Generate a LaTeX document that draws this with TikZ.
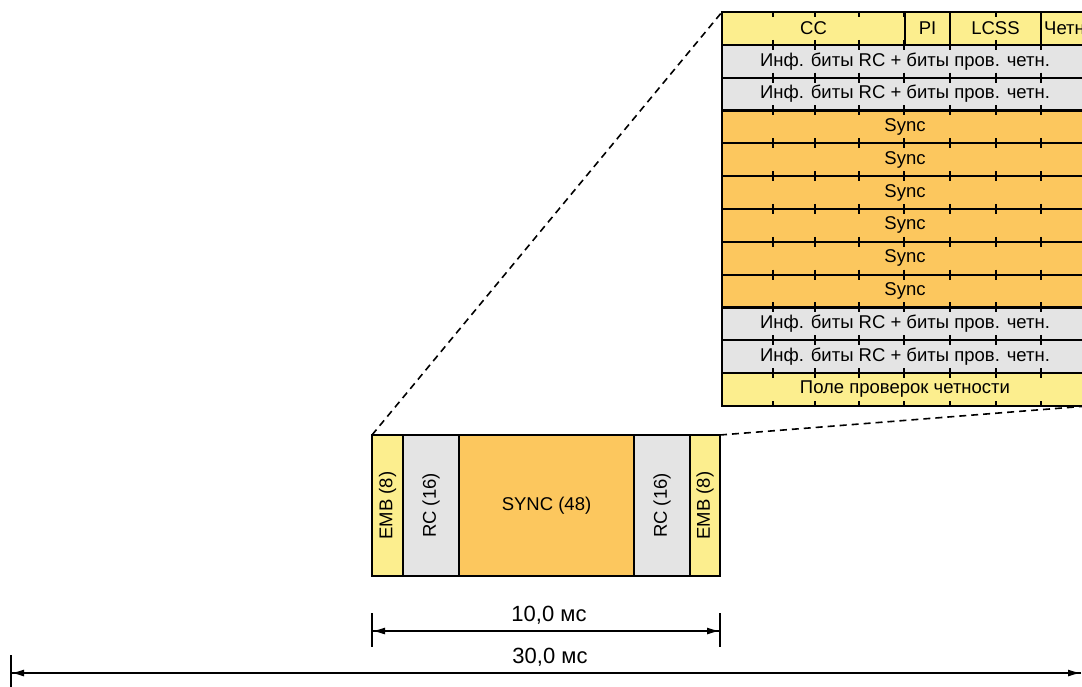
\documentclass[tikz,border=0pt]{standalone}
\usepackage{fontspec}
\setmainfont{Liberation Sans}
\usetikzlibrary{arrows.meta}
\definecolor{yel}{RGB}{252,238,142}
\definecolor{gry}{RGB}{228,228,228}
\definecolor{org}{RGB}{252,199,94}
\tikzset{
  cell/.style={draw=black, line width=2.2pt, inner sep=0pt, outer sep=0pt, anchor=north west,
    font=\fontsize{18.5}{20}\selectfont},
  rowcell/.style={cell, minimum width=366pt, minimum height=32.83pt},
  vcell/.style={cell, anchor=north west, minimum height=141pt},
  vlabel/.style={rotate=90, font=\fontsize{18.5}{20}\selectfont, inner sep=0pt},
  dimline/.style={line width=1.5pt, -{Latex[length=13pt,width=7pt]}},
  dimtick/.style={line width=2pt},
  dimlabel/.style={font=\fontsize{22}{24}\selectfont, inner sep=0pt},
  zoomline/.style={line width=1.6pt, dash pattern=on 7pt off 5pt},
  tick/.style={line width=1.5pt}
}
\begin{document}
\begin{tikzpicture}[x=1pt,y=-1pt]
\useasboundingbox (0,0) rectangle (1082,687);
\clip (0,0) rectangle (1082,687);
% --- expanded table ---
\node[cell, fill=yel, minimum width=183pt, minimum height=32.83pt] (cc) at (722,12) {CC};
\node[cell, fill=yel, minimum width=45pt, minimum height=32.83pt] (pi) at (905,12) {PI};
\node[cell, fill=yel, minimum width=91pt, minimum height=32.83pt] (lcss) at (950,12) {LCSS};
\node[cell, fill=yel, minimum width=47pt, minimum height=32.83pt] (par) at (1041,12) {Четн};
\node[rowcell, fill=gry] (r2) at (722,44.83) {Инф. биты RC + биты пров. четн.};
\node[rowcell, fill=gry] (r3) at (722,77.66) {Инф. биты RC + биты пров. четн.};
\node[rowcell, fill=org] (r4) at (722,110.49) {Sync};
\node[rowcell, fill=org] (r5) at (722,143.32) {Sync};
\node[rowcell, fill=org] (r6) at (722,176.15) {Sync};
\node[rowcell, fill=org] (r7) at (722,208.98) {Sync};
\node[rowcell, fill=org] (r8) at (722,241.81) {Sync};
\node[rowcell, fill=org] (r9) at (722,274.64) {Sync};
\node[rowcell, fill=gry] (r10) at (722,307.47) {Инф. биты RC + биты пров. четн.};
\node[rowcell, fill=gry] (r11) at (722,340.30) {Инф. биты RC + биты пров. четн.};
\node[rowcell, fill=yel] (r12) at (722,373.13) {Поле проверок четности};
% tick marks
\foreach \x in {773,815,859,904,950,996,1041} {
  \draw[tick] (\x,12) -- (\x,17);
  \foreach \i in {1,...,11} {
    \draw[tick] (\x,12+32.83*\i-5) -- (\x,12+32.83*\i+5);
  }
  \draw[tick] (\x,406) -- (\x,401);
}
% --- slot ---
\node[vcell, fill=yel, minimum width=31pt] (emb1) at (372,435) {};
\node[vcell, fill=gry, minimum width=56pt] (rc1) at (403,435) {};
\node[vcell, fill=org, minimum width=175pt] (sync) at (459,435) {SYNC (48)};
\node[vcell, fill=gry, minimum width=56pt] (rc2) at (634,435) {};
\node[vcell, fill=yel, minimum width=30pt] (emb2) at (690,435) {};
\node[vlabel] (emb1t) at (emb1.center) {EMB (8)};
\node[vlabel] (rc1t) at (rc1.center) {RC (16)};
\node[vlabel] (rc2t) at (rc2.center) {RC (16)};
\node[vlabel] (emb2t) at (emb2.center) {EMB (8)};
% zoom lines
\draw[zoomline] (emb1.north west) -- (cc.north west);
\draw[zoomline] (emb2.north east) -- (r12.south east);
% --- dimensions ---
\coordinate (t1a) at (372,613); \coordinate (t1b) at (372,647);
\coordinate (t2a) at (720,613); \coordinate (t2b) at (720,647);
\coordinate (a1l) at (372,631); \coordinate (a1r) at (720,631);
\draw[dimtick] (t1a) -- (t1b);
\draw[dimtick] (t2a) -- (t2b);
\draw[dimline] (a1l) -- (a1r);
\draw[dimline] (a1r) -- (a1l);
\node[dimlabel] (l10) at (549,615) {10,0 мс};
\coordinate (t3a) at (11,655); \coordinate (t3b) at (11,690);
\coordinate (a2l) at (11,673); \coordinate (a2r) at (1081,673);
\draw[dimtick] (t3a) -- (t3b);
\draw[dimline] (a2l) -- (a2r);
\draw[dimline] (a2r) -- (a2l);
\node[dimlabel] (l30) at (550,657) {30,0 мс};
\end{tikzpicture}
\end{document}
